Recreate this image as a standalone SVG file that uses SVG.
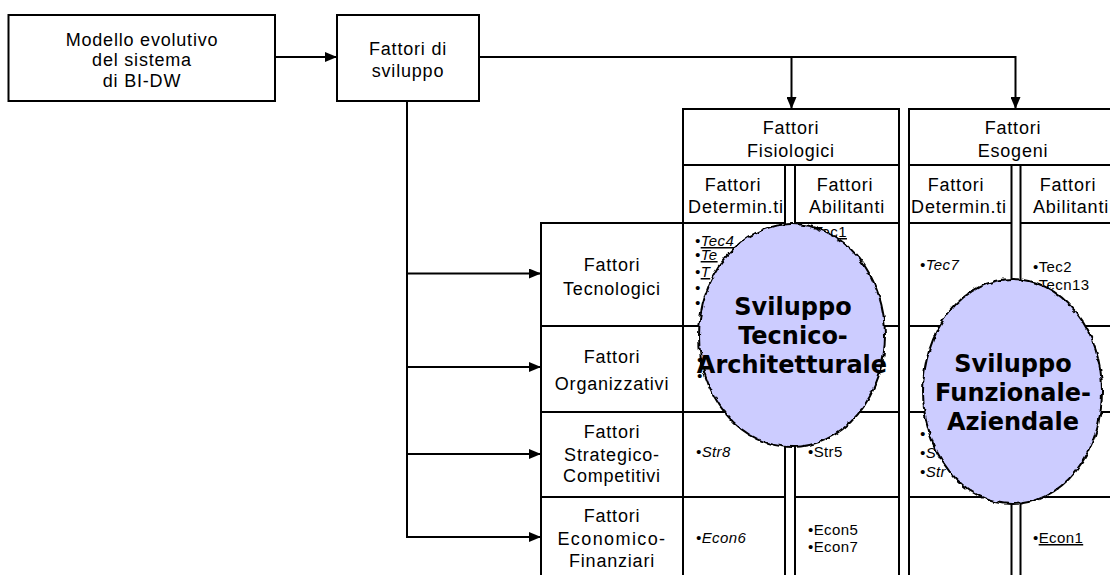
<svg xmlns="http://www.w3.org/2000/svg" width="1110" height="575" viewBox="0 0 1110 575">
  <style>
    .box { fill: #fff; stroke: #000; stroke-width: 2; }
    .t { font-family: "Liberation Sans", Arial, sans-serif; font-size: 18px; letter-spacing: 0.8px; text-anchor: middle; fill: #000; }
    .li { font-family: "Liberation Sans", Arial, sans-serif; font-size: 15px; font-style: italic; letter-spacing: 0.4px; fill: #000; }
    .lu { font-family: "Liberation Sans", Arial, sans-serif; font-size: 15px; letter-spacing: 0.4px; fill: #000; }
    .u { text-decoration: underline; }
    .grid line { stroke: #000; stroke-width: 2; }
    .conn path { fill: none; stroke: #000; stroke-width: 2; marker-end: url(#ah); }
    .blob { fill: #CCCCFF; stroke: #000; stroke-width: 2; filter: url(#wobble); }
    .bt { font-family: "DejaVu Sans", Verdana, sans-serif; font-weight: bold; font-size: 24px; text-anchor: middle; fill: #000; }
  </style>
  <defs>
    <marker id="ah" markerWidth="12" markerHeight="10" refX="12" refY="5" orient="auto" markerUnits="userSpaceOnUse">
      <path d="M0,0 L12,5 L0,10 Z" fill="#000"/>
    </marker>
    <!-- slightly ragged outline for the two development areas -->
    <filter id="wobble" x="-10%" y="-10%" width="120%" height="120%">
      <feTurbulence type="fractalNoise" baseFrequency="0.18" numOctaves="1" seed="4" result="n"/>
      <feDisplacementMap in="SourceGraphic" in2="n" scale="5" xChannelSelector="R" yChannelSelector="G"/>
    </filter>
  </defs>

  <rect width="1110" height="575" fill="#fff"/>

  <!-- source box -->
  <g id="modello">
    <rect class="box" x="8.5" y="15" width="266.5" height="86"/>
    <text class="t" x="142" y="45.5">Modello evolutivo</text>
    <text class="t" x="142" y="66">del sistema</text>
    <text class="t" x="142" y="87">di BI-DW</text>
  </g>

  <g id="fattori-sviluppo">
    <rect class="box" x="337" y="15" width="142" height="86"/>
    <text class="t" x="408" y="55">Fattori di</text>
    <text class="t" x="408" y="77">sviluppo</text>
  </g>

  <!-- connectors -->
  <g id="connectors" class="conn">
    <path d="M275,57 H337"/>
    <path d="M479,57 H1015.5 V109"/>
    <path d="M791.5,57 V109"/>
    <path d="M407,101 V537 H541"/>
    <path d="M407,273.5 H541"/>
    <path d="M407,367 H541"/>
    <path d="M407,454 H541"/>
  </g>

  <!-- matrix grid -->
  <g id="grid" class="grid">
    <!-- header tops -->
    <line x1="683" y1="109" x2="899" y2="109"/>
    <line x1="909" y1="109" x2="1115" y2="109"/>
    <line x1="683" y1="165" x2="899" y2="165"/>
    <line x1="909" y1="165" x2="1115" y2="165"/>
    <!-- row separators -->
    <line x1="541" y1="223" x2="785" y2="223"/>
    <line x1="795" y1="223" x2="899" y2="223"/>
    <line x1="909" y1="223" x2="1011.5" y2="223"/>
    <line x1="1020.5" y1="223" x2="1115" y2="223"/>
    <line x1="541" y1="326" x2="785" y2="326"/>
    <line x1="795" y1="326" x2="899" y2="326"/>
    <line x1="909" y1="326" x2="1011.5" y2="326"/>
    <line x1="1020.5" y1="326" x2="1115" y2="326"/>
    <line x1="541" y1="412" x2="785" y2="412"/>
    <line x1="795" y1="412" x2="899" y2="412"/>
    <line x1="909" y1="412" x2="1011.5" y2="412"/>
    <line x1="1020.5" y1="412" x2="1115" y2="412"/>
    <line x1="541" y1="497" x2="785" y2="497"/>
    <line x1="795" y1="497" x2="899" y2="497"/>
    <line x1="909" y1="497" x2="1011.5" y2="497"/>
    <line x1="1020.5" y1="497" x2="1115" y2="497"/>
    <!-- verticals -->
    <line x1="541" y1="222" x2="541" y2="576"/>
    <line x1="683" y1="108" x2="683" y2="576"/>
    <line x1="785" y1="165" x2="785" y2="576"/>
    <line x1="795" y1="165" x2="795" y2="576"/>
    <line x1="899" y1="108" x2="899" y2="576"/>
    <line x1="909" y1="108" x2="909" y2="576"/>
    <line x1="1011.5" y1="165" x2="1011.5" y2="576"/>
    <line x1="1020.5" y1="165" x2="1020.5" y2="576"/>
  </g>

  <!-- column headers -->
  <g id="fisiologici">
    <text class="t" x="791" y="134">Fattori</text>
    <text class="t" x="791" y="157">Fisiologici</text>
  </g>
  <g id="esogeni">
    <text class="t" x="1013" y="134">Fattori</text>
    <text class="t" x="1013" y="157">Esogeni</text>
  </g>
  <g id="fis-determinanti">
    <text class="t" x="733" y="190.5">Fattori</text>
    <text class="t" x="736" y="213">Determin.ti</text>
  </g>
  <g id="fis-abilitanti">
    <text class="t" x="845" y="190.5">Fattori</text>
    <text class="t" x="847" y="213">Abilitanti</text>
  </g>
  <g id="eso-determinanti">
    <text class="t" x="956" y="190.5">Fattori</text>
    <text class="t" x="959" y="213">Determin.ti</text>
  </g>
  <g id="eso-abilitanti">
    <text class="t" x="1068" y="190.5">Fattori</text>
    <text class="t" x="1071" y="213">Abilitanti</text>
  </g>

  <!-- row labels -->
  <g id="tecnologici">
    <text class="t" x="612" y="271">Fattori</text>
    <text class="t" x="612" y="294.5">Tecnologici</text>
  </g>
  <g id="organizzativi">
    <text class="t" x="612" y="363">Fattori</text>
    <text class="t" x="612" y="390">Organizzativi</text>
  </g>
  <g id="strategico">
    <text class="t" x="612" y="438">Fattori</text>
    <text class="t" x="612" y="460.5">Strategico-</text>
    <text class="t" x="612" y="482">Competitivi</text>
  </g>
  <g id="economico">
    <text class="t" x="612" y="521.5">Fattori</text>
    <text class="t" x="612" y="544.5" style="letter-spacing:1.4px">Economico-</text>
    <text class="t" x="612" y="566.5">Finanziari</text>
  </g>

  <!-- cell entries -->
  <g id="cell-entries">
    <text class="li" x="695" y="246">•<tspan class="u">Tec4</tspan></text>
    <text class="li" x="695" y="260">•<tspan class="u">Te</tspan></text>
    <text class="li" x="695" y="277">•<tspan class="u">T</tspan></text>
    <text class="li" x="695" y="292.5">•</text>
    <text class="li" x="695" y="308">•</text>
    <text class="lu" x="808" y="237">•<tspan class="u">Tec1</tspan></text>

    <text class="li" x="920" y="270">•Tec7</text>
    <text class="lu" x="1033" y="272">•Tec2</text>
    <text class="lu" x="1033" y="290">•Tecn13</text>

    <text class="li" x="697" y="365">•</text>
    <text class="li" x="697" y="381">•</text>

    <text class="li" x="696" y="457">•Str8</text>
    <text class="lu" x="808" y="457">•Str5</text>
    <text class="li" x="920" y="439">•</text>
    <text class="li" x="920" y="458">•S</text>
    <text class="li" x="920" y="477">•Str</text>

    <text class="li" x="696" y="543">•Econ6</text>
    <text class="lu" x="808" y="534.5">•Econ5</text>
    <text class="lu" x="808" y="552">•Econ7</text>
    <text class="lu" x="1033" y="543">•<tspan class="u">Econ1</tspan></text>
  </g>

  <!-- development areas -->
  <g id="sviluppo-tecnico">
    <ellipse class="blob" cx="792" cy="335.5" rx="93" ry="111.5"/>
    <text class="bt" x="793" y="315">Sviluppo</text>
    <text class="bt" x="793" y="344">Tecnico-</text>
    <text class="bt" x="792" y="373">Architetturale</text>
  </g>
  <g id="sviluppo-funzionale">
    <ellipse class="blob" cx="1012.5" cy="391.5" rx="89.5" ry="112.5"/>
    <text class="bt" x="1013" y="372">Sviluppo</text>
    <text class="bt" x="1013" y="401">Funzionale-</text>
    <text class="bt" x="1013" y="430">Aziendale</text>
  </g>
</svg>
